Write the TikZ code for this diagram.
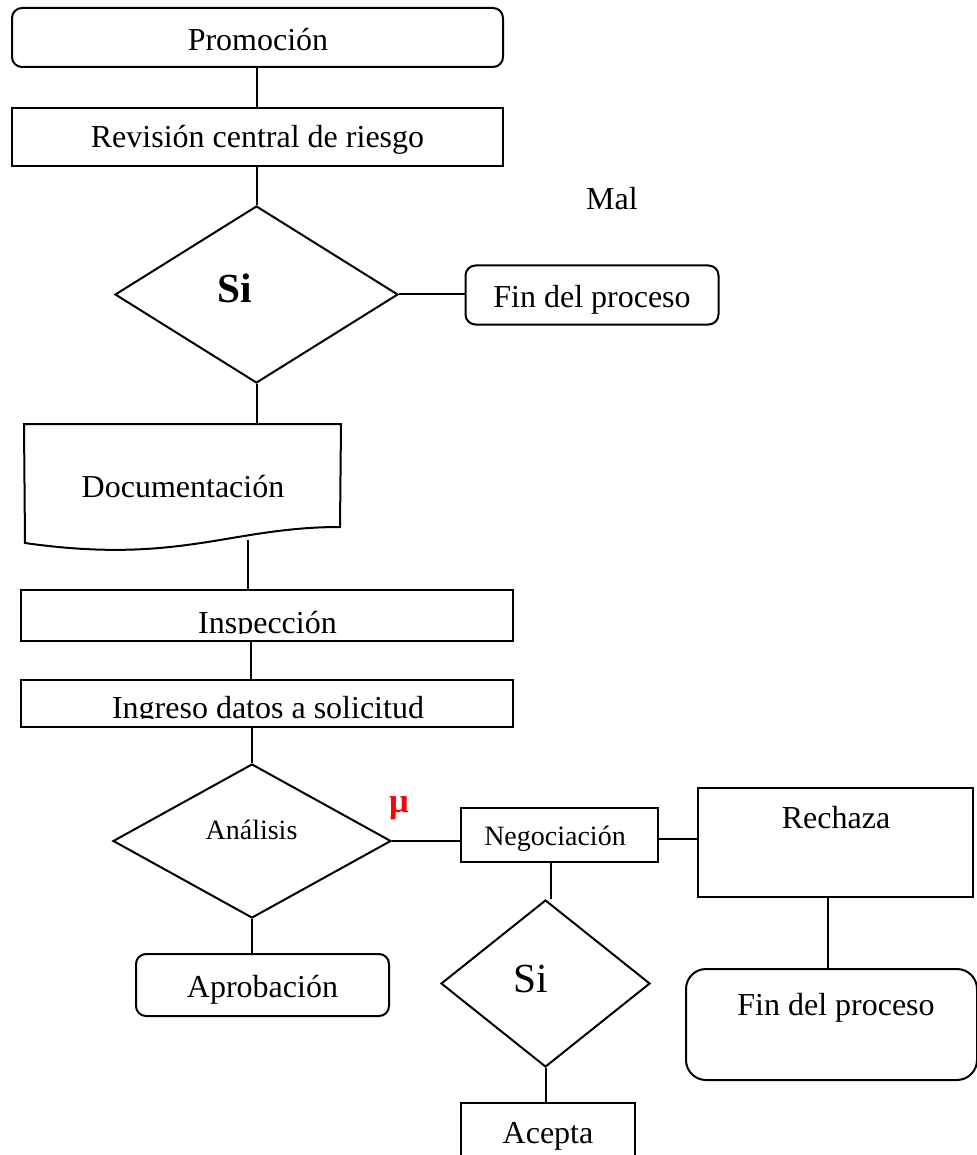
\documentclass[tikz,border=0pt]{standalone}
\usepackage{fontspec}
\setmainfont{Liberation Serif}
\usetikzlibrary{shapes.geometric}
\begin{document}
\begin{tikzpicture}[x=0.75pt,y=-0.75pt,line width=1.5pt,
  sz/.style 2 args={minimum width=0.75pt*#1,minimum height=0.75pt*#2},
  box/.style={draw,rectangle,inner sep=0pt},
  rbox/.style={draw,rectangle,rounded corners=7.5pt,inner sep=0pt},
  dec/.style={draw,diamond,inner sep=0pt},
  txt/.style={anchor=base,inner sep=0pt,font=\fontsize{24}{28}\selectfont},
  small/.style={font=\fontsize{21}{25}\selectfont},
  big/.style={font=\fontsize{31}{36}\selectfont},
  bigbold/.style={font=\fontsize{31}{36}\selectfont\bfseries},
  mark red/.style={font=\fontsize{26}{30}\selectfont\bfseries,text=red}]
\useasboundingbox (0,0) rectangle (976,1155);

% shapes
\node[rbox,sz={491}{59}] (promo) at (257.5,37.5) {};
\node[box,sz={491}{58}] (rev) at (257.5,137) {};
\node[dec,sz={283}{177}] (d1) at (256.5,294.5) {};
\node[rbox,sz={253}{59}] (fin1) at (592,295) {};
\node[rectangle,inner sep=0pt,sz={315}{120}] (doc) at (182.5,485) {};
\draw (doc.north west) -- (doc.north east) -- (340,527)
  .. controls (230,527) and (180,565) .. (25,543) -- cycle;
\node[box,sz={492}{51}] (insp) at (267,615.5) {};
\node[box,sz={492}{47}] (ingr) at (267,703.5) {};
\node[dec,sz={278}{154}] (d2) at (252,841) {};
\node[rbox,sz={253}{62}] (aprob) at (262.5,985) {};
\node[box,sz={197}{54}] (nego) at (559.5,835) {};
\node[box,sz={275}{109}] (rech) at (835.5,842.5) {};
\node[dec,sz={209}{167}] (d3) at (545.5,983.5) {};
\node[rbox,rounded corners=15pt,sz={291}{111}] (fin2) at (831.5,1024.5) {};
\node[box,sz={174}{70}] (acep) at (548,1138) {};

% connectors
\coordinate (docout) at (248,540);
\coordinate (spine) at (251,0);
\coordinate (nr) at (658,839);
\coordinate (nd) at (551,862);
\coordinate (rd) at (828,897);
\draw (d1.north |- promo.south) -- (d1.north |- rev.north);
\draw (d1.north |- rev.south) -- (d1.north);
\draw (d1.east) -- (d1.east -| fin1.west);
\draw (d1.south) -- (d1.south |- doc.north);
\draw (docout) -- (docout |- insp.north);
\draw (spine |- insp.south) -- (spine |- ingr.north);
\draw (d2.north |- ingr.south) -- (d2.north);
\draw (d2.south) -- (d2.south |- aprob.north);
\draw (d2.east) -- (d2.east -| nego.west);
\draw (nr) -- (nr -| rech.west);
\draw (nd) -- (nd |- d3.north);
\draw (d3.south) -- (d3.south |- acep.north);
\draw (rd) -- (rd |- fin2.north);

% labels
\node[txt] (tpromo) at (258,51) {Promoción};
\node[txt] (trev) at (257.5,148) {Revisión central de riesgo};
\node[txt] (tmal) at (612,210) {Mal};
\node[txt,bigbold] (tsi1) at (235,302) {Si};
\node[txt] (tfin1) at (592,307) {Fin del proceso};
\node[txt] (tdoc) at (183,497) {Documentación};
\begin{scope}
  \clip (21,580) rectangle (513,633);
  \node[txt] (tinsp) at (267.5,633) {Inspección};
\end{scope}
\begin{scope}
  \clip (21,682) rectangle (513,718);
  \node[txt] (tingr) at (268,718) {Ingreso datos a solicitud};
\end{scope}
\node[txt,small] (tana) at (251.5,839) {Análisis};
\node[txt,mark red] (tmu) at (399,812) {μ};
\node[txt,small] (tnego) at (555,845) {Negociación};
\node[txt] (trech) at (836,828) {Rechaza};
\node[txt] (taprob) at (262.5,997) {Aprobación};
\node[txt,big] (tsi2) at (531,992) {Si};
\node[txt] (tfin2) at (836,1015) {Fin del proceso};
\node[txt] (tacep) at (548,1143) {Acepta};
\end{tikzpicture}
\end{document}
